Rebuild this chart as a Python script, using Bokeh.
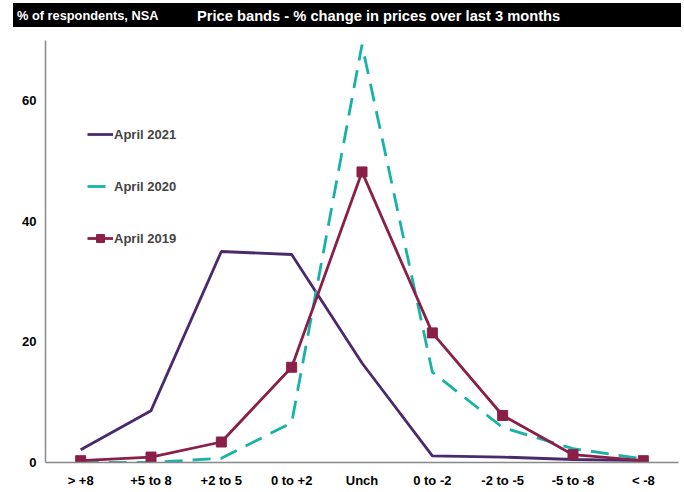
from bokeh.plotting import figure
from bokeh.models import FactorRange, Range1d, Legend, LegendItem, Div
from bokeh.layouts import column
from bokeh.embed import file_html
from bokeh.resources import INLINE

categories = ["> +8", "+5 to 8", "+2 to 5", "0 to +2", "Unch", "0 to -2", "-2 to -5", "-5 to -8", "< -8"]
april_2021 = [2.1, 8.6, 35.0, 34.5, 16.5, 1.1, 0.9, 0.5, 0.3]
april_2020 = [0.0, 0.0, 0.7, 6.6, 69.3, 15.0, 5.8, 2.3, 0.6]
april_2019 = [0.3, 0.9, 3.4, 15.8, 48.2, 21.5, 7.8, 1.3, 0.3]
y_ticks = [0, 20, 40, 60]
unit_text = "% of respondents, NSA"
title_text = "Price bands - % change in prices over last 3 months"

FONT = "Liberation Sans"
PURPLE = "#4a2a6c"
TEAL = "#17b3a8"
MAROON = "#8a1f48"

# Header bar
header = Div(
    text=(f'<span style="position:absolute; left:4px; top:4px; font-size:12.8px;">{unit_text}</span>'
          f'<span style="position:absolute; left:184px; top:3px; font-size:14.7px;">{title_text}</span>'),
    width=668, height=24, margin=(3, 3, 1, 13),
    styles={"background-color": "black", "color": "white", "font-family": "'Liberation Sans', sans-serif",
            "font-weight": "bold", "position": "relative", "white-space": "nowrap", "overflow": "hidden"})

p = figure(frame_width=633, frame_height=422, x_range=FactorRange(*categories, range_padding=0),
           y_range=Range1d(0, 70), output_backend="svg", toolbar_location=None, title=None,
           min_border_left=45, min_border_right=6, min_border_top=12, min_border_bottom=30,
           margin=0)

p.xgrid.visible = False
p.ygrid.visible = False
p.outline_line_color = None

for ax in (p.xaxis[0], p.yaxis[0]):
    ax.axis_line_color = "#888888"
    ax.axis_line_width = 1.5
    ax.major_tick_line_color = None
    ax.minor_tick_line_color = None
    ax.major_tick_out = 0
    ax.major_tick_in = 0
    ax.minor_tick_out = 0
    ax.major_label_text_font = FONT
    ax.major_label_text_font_style = "bold"
    ax.major_label_text_font_size = "13px"
    ax.major_label_text_color = "black"
p.yaxis.ticker = y_ticks
p.yaxis.major_label_standoff = 9
p.xaxis.major_label_standoff = 10

r21 = p.line(categories, april_2021, line_color=PURPLE, line_width=2.8)
r20 = p.line(categories, april_2020, line_color=TEAL, line_width=2.8, line_dash="18 10")
r19 = p.line(categories, april_2019, line_color=MAROON, line_width=2.8)
r19m = p.scatter(categories, april_2019, marker="square", size=10, fill_color=MAROON, line_color=MAROON)

legend = Legend(items=[LegendItem(label="April 2021", renderers=[r21]),
                       LegendItem(label="April 2020", renderers=[r20]),
                       LegendItem(label="April 2019", renderers=[r19, r19m])],
                location=(42, 214), orientation="vertical", spacing=32,
                glyph_width=26, glyph_height=20, label_standoff=1, padding=0, margin=0,
                border_line_color=None, background_fill_alpha=0,
                label_text_font=FONT, label_text_font_style="bold", label_text_font_size="13px")
p.add_layout(legend, "center")

layout = column(header, p, spacing=0)
open("out.html", "w").write(file_html(layout, INLINE))
